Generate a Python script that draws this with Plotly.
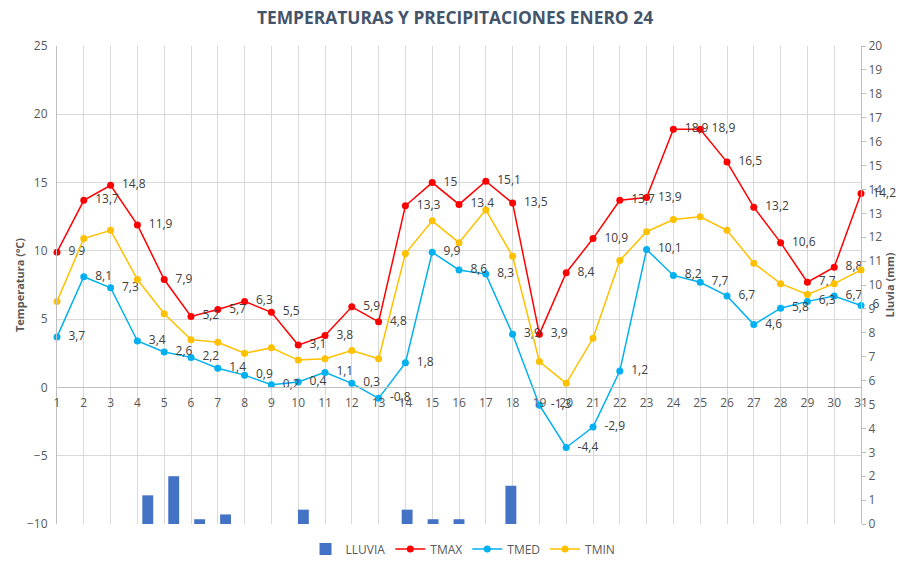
import plotly.graph_objects as go

days = list(range(1, 32))
tmax = [9.9, 13.7, 14.8, 11.9, 7.9, 5.2, 5.7, 6.3, 5.5, 3.1, 3.8, 5.9, 4.8, 13.3, 15, 13.4,
        15.1, 13.5, 3.9, 8.4, 10.9, 13.7, 13.9, 18.9, 18.9, 16.5, 13.2, 10.6, 7.7, 8.8, 14.2]
tmed = [3.7, 8.1, 7.3, 3.4, 2.6, 2.2, 1.4, 0.9, 0.2, 0.4, 1.1, 0.3, -0.8, 1.8, 9.9, 8.6,
        8.3, 3.9, -1.3, -4.4, -2.9, 1.2, 10.1, 8.2, 7.7, 6.7, 4.6, 5.8, 6.3, 6.7, 6.0]
tmin = [6.3, 10.9, 11.5, 7.9, 5.4, 3.5, 3.3, 2.5, 2.9, 2.0, 2.1, 2.7, 2.1, 9.8, 12.2, 10.6,
        13.0, 9.6, 1.9, 0.3, 3.6, 9.3, 11.4, 12.3, 12.5, 11.5, 9.1, 7.6, 6.8, 7.6, 8.6]
lluvia = [0, 0, 0, 1.2, 2.0, 0.2, 0.4, 0, 0, 0.6, 0, 0, 0, 0.6, 0.2, 0.2,
          0, 1.6, 0, 0, 0, 0, 0, 0, 0, 0, 0, 0, 0, 0, 0]

temp_ticks = [-10, -5, 0, 5, 10, 15, 20, 25]
rain_ticks = list(range(0, 21))


def fmt(v):
    s = ("%g" % v)
    return "\u2002" + s.replace(".", ",")


FONT = "Open Sans"
TXT = "#595959"
GRID = "#D9D9D9"
AXL = "#BFBFBF"

fig = go.Figure()

fig.add_trace(go.Bar(
    x=days, y=lluvia, name="LLUVIA", xaxis="x2", yaxis="y2",
    marker=dict(color="#4472C4", line=dict(width=0)), width=0.42,
))

fig.add_trace(go.Scatter(
    x=days, y=tmax, name="TMAX", mode="lines+markers+text",
    line=dict(color="#FF0000", width=1.5), marker=dict(color="#FF0000", size=7),
    text=[fmt(v) for v in tmax], textposition="middle right",
    textfont=dict(family=FONT, size=12, color="#404040"), cliponaxis=False,
))
fig.add_trace(go.Scatter(
    x=days, y=tmed, name="TMED", mode="lines+markers+text",
    line=dict(color="#00B0F0", width=1.5), marker=dict(color="#00B0F0", size=7),
    text=[fmt(v) for v in tmed], textposition="middle right",
    textfont=dict(family=FONT, size=12, color="#404040"), cliponaxis=False,
))
fig.add_trace(go.Scatter(
    x=days, y=tmin, name="TMIN", mode="lines+markers",
    line=dict(color="#FFC000", width=1.5), marker=dict(color="#FFC000", size=7),
    cliponaxis=False,
))

fig.update_layout(
    width=910, height=562,
    margin=dict(l=57, r=49, t=46, b=38, autoexpand=False),
    paper_bgcolor="white", plot_bgcolor="white",
    font=dict(family=FONT, size=12, color=TXT),
    separators=", ",
    title=dict(text="<b>TEMPERATURAS Y PRECIPITACIONES ENERO 24</b>",
               x=0.5, xanchor="center", y=1 - 18 / 562, yanchor="middle",
               font=dict(family=FONT, size=17.4, color="#44546A")),
    showlegend=True,
    legend=dict(orientation="h", x=0.505, xanchor="center", yref="container",
                y=1 - 549 / 562, yanchor="middle",
                font=dict(family=FONT, size=12, color=TXT), traceorder="normal"),
    xaxis=dict(range=[1, 31], tickmode="array", tickvals=days, ticktext=[str(d) for d in days],
               showgrid=True, gridcolor=GRID, gridwidth=1, automargin=False,
               showline=True, linecolor=AXL, linewidth=1, zeroline=False,
               anchor="free", position=10 / 35, ticks="", ticklabelstandoff=4,
               tickfont=dict(family=FONT, size=12, color=TXT)),
    xaxis2=dict(range=[0.5, 31.5], overlaying="x", anchor="y2", visible=False,
                automargin=False),
    yaxis=dict(range=[-10, 25], tickmode="array", tickvals=temp_ticks, automargin=False,
               showgrid=True, gridcolor=GRID, gridwidth=1,
               showline=True, linecolor=AXL, linewidth=1, zeroline=False, ticks="",
               ticklabelstandoff=6,
               title=dict(text="<b>Temperatura (ºC)</b>", standoff=0,
                          font=dict(family=FONT, size=11, color=TXT)),
               tickfont=dict(family=FONT, size=12, color=TXT)),
    yaxis2=dict(range=[0, 20], tickmode="array", tickvals=rain_ticks, overlaying="y",
                side="right", anchor="x2", showgrid=False, zeroline=False, automargin=False,
                showline=True, linecolor=AXL, linewidth=1,
                ticks="outside", ticklen=4, tickcolor=AXL,
                title=dict(text="<b>Lluvia (mm)</b>", standoff=0,
                           font=dict(family=FONT, size=11, color=TXT)),
                tickfont=dict(family=FONT, size=12, color=TXT)),
)

fig.write_html("out.html", post_script="document.body.style.margin='0';",
               config={"displayModeBar": False})
